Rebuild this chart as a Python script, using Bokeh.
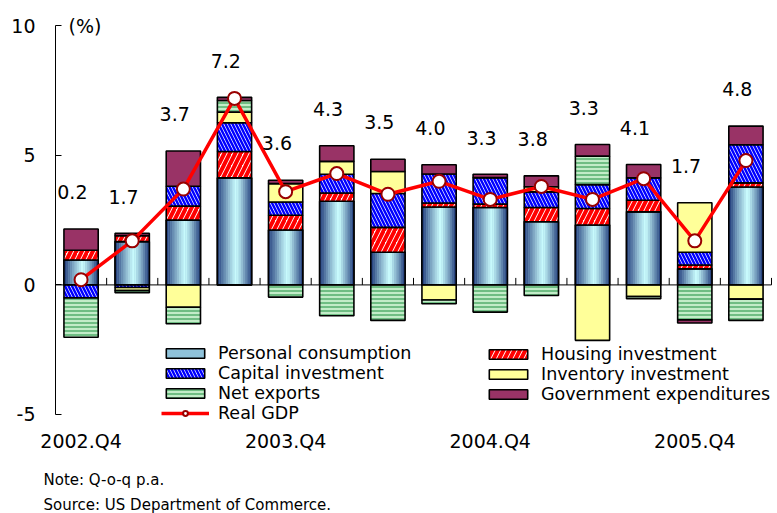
import numpy as np
from bokeh.plotting import figure
from bokeh.models import (ColumnDataSource, Legend, LegendItem, Label, FixedTicker,
                          Range1d, Title)
from bokeh.embed import file_html
from bokeh.resources import INLINE
from bokeh.core.properties import value

# ---------------- data ----------------
quarters = ["2002.Q4", "2003.Q1", "2003.Q2", "2003.Q3", "2003.Q4", "2004.Q1", "2004.Q2",
            "2004.Q3", "2004.Q4", "2005.Q1", "2005.Q2", "2005.Q3", "2005.Q4", "2006.Q1"]
tick_quarters = ["2002.Q4", "2003.Q4", "2004.Q4", "2005.Q4"]
y_ticks = [-5, 0, 5, 10]

personal = [0.96, 1.67, 2.50, 4.13, 2.12, 3.23, 1.26, 3.01, 2.99, 2.44, 2.31, 2.82, 0.62, 3.78]
housing = [0.38, 0.23, 0.54, 1.02, 0.57, 0.32, 0.96, 0.15, 0.13, 0.55, 0.64, 0.45, 0.15, 0.16]
capital = [-0.50, -0.10, 0.77, 1.11, 0.51, 0.72, 1.31, 1.12, 1.02, 0.60, 0.92, 0.86, 0.49, 1.47]
inventory = [0.0, -0.12, -0.86, 0.41, 0.71, 0.50, 0.85, -0.58, 0.0, 0.20, -2.14, -0.45, 1.91, -0.55]
net_exports = [-1.52, -0.08, -0.64, 0.45, -0.47, -1.19, -1.37, -0.15, -1.05, -0.41, 1.10, -0.08, -1.35, -0.82]
government = [0.82, 0.09, 1.36, 0.12, 0.13, 0.60, 0.47, 0.36, 0.13, 0.42, 0.45, 0.52, -0.12, 0.72]
real_gdp = [0.2, 1.7, 3.7, 7.2, 3.6, 4.3, 3.5, 4.0, 3.3, 3.8, 3.3, 4.1, 1.7, 4.8]

names = ["Personal consumption", "Housing investment", "Capital investment",
         "Inventory investment", "Net exports", "Government expenditures"]
series = [personal, housing, capital, inventory, net_exports, government]

FONT = "DejaVu Sans"
n = len(quarters)
xs = np.arange(n, dtype=float)
BAR_W = 0.67

# stacking (positives upward, negatives downward)
pos = np.zeros(n)
neg = np.zeros(n)
stacks = []
for s in series:
    v = np.array(s, dtype=float)
    bottom = np.where(v >= 0, pos, neg + v)
    top = np.where(v >= 0, pos + v, neg)
    pos = np.where(v >= 0, pos + v, pos)
    neg = np.where(v < 0, neg + v, neg)
    stacks.append((bottom, top))

# plot frame: categories span 716 px, a little extra room on the right for the legend text
cat_px = 716 / n
p = figure(width=777, height=513, output_backend="svg", toolbar_location=None,
           x_range=Range1d(-0.5, n - 0.5 + 6 / cat_px), y_range=Range1d(-5.35, 10.4),
           min_border_left=55, min_border_right=0, min_border_top=15, min_border_bottom=90)
p.outline_line_color = None
p.grid.visible = False
p.background_fill_color = "white"

# ---- personal consumption: legend swatch renderer (hidden under gradient strips) ----
b0, t0 = stacks[0]
pc_legend = p.vbar(x=xs, width=BAR_W, bottom=b0, top=t0, fill_color="#8fc2da",
                   line_color="black", line_width=1.6)
# horizontal gradient made of strips
N_STRIP = 16
dark = np.array([0x1e, 0x38, 0x78])
light = np.array([0xcc, 0xff, 0xff])
peak = 0.55
for k in range(N_STRIP):
    f = (k + 0.5) / N_STRIP
    d = abs(f - peak) / (peak if f < peak else 1 - peak)
    mix = np.clip(d, 0, 1) ** 1.15
    c = (light * (1 - mix) + dark * mix).astype(int)
    col = "#%02x%02x%02x" % tuple(c)
    off = -BAR_W / 2 + f * BAR_W
    p.vbar(x=xs + off, width=BAR_W / N_STRIP * 1.08, bottom=b0, top=t0,
           fill_color=col, line_color=None)
p.vbar(x=xs, width=BAR_W, bottom=b0, top=t0, fill_alpha=0,
       line_color="black", line_width=1.6)

styles = [
    None,
    dict(fill_color="white", hatch_pattern="right_diagonal_line", hatch_color="#ff0000",
         hatch_weight=4, hatch_scale=11),
    dict(fill_color="white", hatch_pattern="left_diagonal_line", hatch_color="#0000ff",
         hatch_weight=2.5, hatch_scale=7),
    dict(fill_color="#ffff99"),
    dict(fill_color="#c2ecc8", hatch_pattern="horizontal_line", hatch_color="#52ad6c",
         hatch_weight=1.5, hatch_scale=4),
    dict(fill_color="#993366"),
]
renderers = {names[0]: [pc_legend]}
for i in range(1, len(series)):
    b, t = stacks[i]
    src = ColumnDataSource(dict(x=xs, bottom=b, top=t))
    r = p.vbar(x="x", width=BAR_W, bottom="bottom", top="top", source=src,
               line_color="black", line_width=1.6, **styles[i])
    renderers[names[i]] = [r]

# zero line across the categories, with ticks at category edges
p.segment(x0=[-0.5], y0=[0], x1=[n - 0.5], y1=[0], line_color="black", line_width=1)
edges = xs + 0.5
p.segment(x0=edges, y0=np.zeros(n), x1=edges, y1=np.full(n, 0.27),
          line_color="black", line_width=1)

# real GDP
gl = p.line(xs, real_gdp, line_color="#ff0000", line_width=3.5)
gm = p.scatter(xs, real_gdp, size=13, fill_color="white", line_color="#990000",
               line_width=2)

# GDP labels above bars
top_all = np.maximum(pos, np.array(real_gdp))
p.text(x=xs - 0.17, y=top_all + 1.42, text=["%.1f" % v for v in real_gdp],
       text_font=value(FONT), text_font_size="19px", text_align="center",
       text_baseline="middle", text_color="black")

# axes
ya = p.yaxis[0]
ya.ticker = FixedTicker(ticks=y_ticks)
ya.major_label_overrides = {t: str(t) for t in y_ticks}
ya.bounds = (y_ticks[0], y_ticks[-1])
ya.major_tick_in = 6
ya.major_tick_out = 0
ya.minor_tick_line_color = None
ya.axis_line_color = "black"
ya.major_tick_line_color = "black"
ya.major_label_text_font = FONT
ya.major_label_text_font_size = "19px"
ya.major_label_text_color = "black"
ya.major_label_standoff = 20

xa = p.xaxis[0]
xa.ticker = FixedTicker(ticks=[quarters.index(q) for q in tick_quarters])
xa.major_label_overrides = {quarters.index(q): q for q in tick_quarters}
xa.axis_line_color = None
xa.major_tick_line_color = None
xa.minor_tick_line_color = None
xa.major_label_text_font = FONT
xa.major_label_text_font_size = "19px"
xa.major_label_text_color = "black"
xa.major_label_standoff = 0

# legends
def make_legend(items, loc):
    return Legend(items=items, location=loc, orientation="vertical",
                  glyph_width=48, glyph_height=12, label_height=14, spacing=0,
                  padding=0, margin=0, label_standoff=9,
                  label_text_font=FONT, label_text_font_size="17.5px",
                  label_text_color="black", border_line_color=None,
                  background_fill_alpha=0)

left_items = [LegendItem(label=names[0], renderers=renderers[names[0]]),
              LegendItem(label=names[2], renderers=renderers[names[2]]),
              LegendItem(label=names[4], renderers=renderers[names[4]]),
              LegendItem(label="Real GDP", renderers=[gl, gm])]
right_items = [LegendItem(label=names[1], renderers=renderers[names[1]]),
               LegendItem(label=names[3], renderers=renderers[names[3]]),
               LegendItem(label=names[5], renderers=renderers[names[5]])]
p.add_layout(make_legend(left_items, (106, 0)))
p.add_layout(make_legend(right_items, (429, 19)))

# texts
p.add_layout(Label(x=-0.5, y=10, x_offset=13, text="(%)", text_font=FONT,
                   text_font_size="19px", text_baseline="middle", text_color="black"))
p.add_layout(Title(text="Note: Q-o-q p.a.", align="left", offset=-12, standoff=29,
                   vertical_align="bottom", text_font=FONT, text_font_size="15px",
                   text_font_style="normal", text_color="black"), "below")
p.add_layout(Title(text="Source: US Department of Commerce.", align="left", offset=-12,
                   standoff=-21, vertical_align="bottom", text_font=FONT,
                   text_font_size="15px", text_font_style="normal",
                   text_color="black"), "below")

open("out.html", "w").write(file_html(p, INLINE))
